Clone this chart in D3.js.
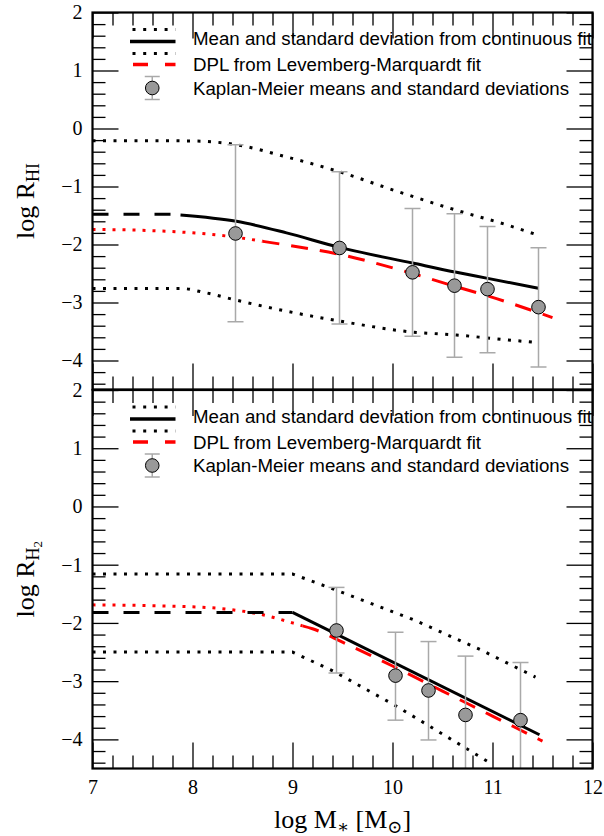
<!DOCTYPE html>
<html><head><meta charset="utf-8">
<script src="https://cdn.jsdelivr.net/npm/d3@7"></script>
<style>body{margin:0;background:#fff}</style>
</head><body><svg id="c" width="604" height="836"></svg>
<script>
// ================= DATA =================
// x axis
const xDomain = [7, 12];
const xTickValues = [7, 8, 9, 10, 11, 12];
const yDomain = [-4.5, 2];
const yTickValues = [-4, -3, -2, -1, 0, 1, 2];

// ---- Top panel: log R_HI ----
const hiUpperX = [7.0, 7.5, 8.0, 8.2, 8.44, 8.94, 9.44, 10.04, 10.64, 11.14, 11.44];
const hiUpperY = [-0.21, -0.21, -0.215, -0.23, -0.28, -0.49, -0.73, -1.08, -1.41, -1.66, -1.83];
const hiLowerX = [7.0, 7.5, 7.9, 8.1, 8.44, 8.94, 9.47, 10.2, 10.64, 11.0, 11.44];
const hiLowerY = [-2.76, -2.76, -2.76, -2.82, -2.96, -3.15, -3.32, -3.51, -3.56, -3.62, -3.69];
const hiMeanExtX = [7.0, 7.88];
const hiMeanExtY = [-1.48, -1.48];
const hiMeanX = [7.88, 8.44, 8.94, 9.47, 10.2, 10.64, 10.94, 11.46];
const hiMeanY = [-1.49, -1.60, -1.80, -2.05, -2.32, -2.48, -2.58, -2.755];
const hiDplExtX = [7.0, 7.5, 7.88, 8.37, 8.7];
const hiDplExtY = [-1.74, -1.755, -1.785, -1.86, -1.945];
const hiDplX = [8.7, 8.87, 9.47, 10.2, 10.64, 10.94, 11.6];
const hiDplY = [-1.945, -1.99, -2.17, -2.5, -2.73, -2.88, -3.26];
const hiPtX = [8.43, 9.47, 10.2, 10.62, 10.95, 11.46];
const hiPtY = [-1.81, -2.06, -2.48, -2.71, -2.77, -3.08];
const hiErrHi = [-0.28, -0.745, -1.38, -1.47, -1.69, -2.055];
const hiErrLo = [-3.33, -3.37, -3.58, -3.945, -3.865, -4.11];

// ---- Bottom panel: log R_H2 ----
const h2UpperX = [7.0, 9.0, 9.41, 10.21, 10.88, 11.43];
const h2UpperY = [-1.16, -1.16, -1.42, -1.945, -2.46, -2.93];
const h2LowerX = [7.0, 9.0, 9.41, 10.04, 10.54, 11.0];
const h2LowerY = [-2.5, -2.5, -2.83, -3.43, -3.95, -4.43];
const h2MeanExtX = [7.0, 9.0];
const h2MeanExtY = [-1.82, -1.82];
const h2MeanX = [9.0, 11.47];
const h2MeanY = [-1.82, -3.92];
const h2DplExtX = [7.0, 7.88, 8.38, 8.7, 9.0, 9.1];
const h2DplExtY = [-1.69, -1.717, -1.77, -1.86, -2.0, -2.05];
const h2DplX = [9.1, 9.2, 9.5, 10.0, 10.5, 11.0, 11.5];
const h2DplY = [-2.05, -2.1, -2.33, -2.74, -3.17, -3.6, -4.03];
const h2PtX = [9.44, 10.03, 10.36, 10.73, 11.28];
const h2PtY = [-2.13, -2.905, -3.16, -3.58, -3.67];
const h2ErrHi = [-1.39, -2.16, -2.32, -2.57, -2.68];
const h2ErrLo = [-2.86, -3.67, -4.01, -4.6, -4.6];

const legendLabels = [
  "Mean and standard deviation from continuous fit",
  "DPL from Levemberg-Marquardt fit",
  "Kaplan-Meier means and standard deviations"
];

// ================= DRAW =================
const svg = d3.select("#c");
const X0 = 92.5, X1 = 592.5;
const x = d3.scaleLinear().domain(xDomain).range([X0, X1]);
const zip = (a, b) => a.map((v, i) => [v, b[i]]);
const RED = "#ff0000", GREY = "#a9a9a9", MFILL = "#999999";
const serif = "'Liberation Serif', 'DejaVu Serif', serif";
const sans = "'Liberation Sans', Arial, sans-serif";
const intFmt = d3.format("d");

function panel(cfg) {
  const y = d3.scaleLinear().domain(yDomain).range([cfg.bottom, cfg.top]);
  const g = svg.append("g");
  const clipId = "clip" + cfg.id;
  svg.append("clipPath").attr("id", clipId).append("rect")
    .attr("x", X0).attr("y", cfg.top).attr("width", X1 - X0).attr("height", cfg.bottom - cfg.top);
  const plot = g.append("g").attr("clip-path", `url(#${clipId})`);

  const mkLine = (curve) => d3.line().x(d => x(d[0])).y(d => y(d[1])).curve(curve);
  const C = cfg.curve;

  function path(xs, ys, stroke, w, dash, curve) {
    plot.append("path").attr("d", mkLine(curve || C)(zip(xs, ys)))
      .attr("fill", "none").attr("stroke", stroke).attr("stroke-width", w)
      .attr("stroke-dasharray", dash || null);
  }
  // dotted std-dev
  path(cfg.upX, cfg.upY, "#000", 3, "3,7.5");
  path(cfg.loX, cfg.loY, "#000", 3, "3,7.5");
  // red DPL
  path(cfg.dplExtX, cfg.dplExtY, RED, 3, "3,7", d3.curveMonotoneX);
  path(cfg.dplX, cfg.dplY, RED, 3, "17,12", d3.curveMonotoneX);
  // mean
  path(cfg.meanExtX, cfg.meanExtY, "#000", 3, "16,15");
  path(cfg.meanX, cfg.meanY, "#000", 3, null);

  // error bars + points
  const pts = cfg.ptX.map((v, i) => ({x: v, y: cfg.ptY[i], hi: cfg.errHi[i], lo: cfg.errLo[i]}));
  const eb = plot.append("g").attr("stroke", GREY).attr("stroke-width", 1.5);
  pts.forEach(p => {
    eb.append("line").attr("x1", x(p.x)).attr("x2", x(p.x)).attr("y1", y(p.hi)).attr("y2", y(p.lo));
    eb.append("line").attr("x1", x(p.x) - 8).attr("x2", x(p.x) + 8).attr("y1", y(p.hi)).attr("y2", y(p.hi));
    eb.append("line").attr("x1", x(p.x) - 8).attr("x2", x(p.x) + 8).attr("y1", y(p.lo)).attr("y2", y(p.lo));
  });
  plot.append("g").selectAll("circle").data(pts).join("circle")
    .attr("cx", d => x(d.x)).attr("cy", d => y(d.y)).attr("r", 6.8)
    .attr("fill", MFILL).attr("stroke", "#000").attr("stroke-width", 1);

  // axes ticks (inward on all four sides)
  const minorY = d3.range(-4.4, 2.0, 0.2).filter(v => Math.abs(v - Math.round(v)) > 1e-6);
  const minorX = d3.range(7.2, 12, 0.2).filter(v => Math.abs(v - Math.round(v)) > 1e-6);
  const ax = [
    [d3.axisLeft(y).tickValues(yTickValues).tickSize(-26).tickPadding(10).tickFormat(intFmt), `translate(${X0},0)`],
    [d3.axisLeft(y).tickValues(minorY).tickSize(-13).tickFormat(""), `translate(${X0},0)`],
    [d3.axisRight(y).tickValues(yTickValues).tickSize(-26).tickFormat(""), `translate(${X1},0)`],
    [d3.axisRight(y).tickValues(minorY).tickSize(-13).tickFormat(""), `translate(${X1},0)`],
    [d3.axisTop(x).tickValues(xTickValues).tickSize(-26).tickFormat(""), `translate(0,${cfg.top})`],
    [d3.axisTop(x).tickValues(minorX).tickSize(-13).tickFormat(""), `translate(0,${cfg.top})`],
    [d3.axisBottom(x).tickValues(xTickValues).tickSize(-26).tickPadding(11).tickFormat(cfg.xLabels ? intFmt : ""), `translate(0,${cfg.bottom})`],
    [d3.axisBottom(x).tickValues(minorX).tickSize(-13).tickFormat(""), `translate(0,${cfg.bottom})`]
  ];
  ax.forEach(([a, t]) => {
    const ag = g.append("g").attr("transform", t).call(a);
    ag.select(".domain").remove();
    ag.selectAll(".tick line").attr("stroke", "#000").attr("stroke-width", 1.3);
    ag.selectAll("text").attr("font-family", serif).attr("font-size", 20).attr("fill", "#000");
  });

  // frame
  g.append("rect").attr("x", X0).attr("y", cfg.top).attr("width", X1 - X0).attr("height", cfg.bottom - cfg.top)
    .attr("fill", "none").attr("stroke", "#000").attr("stroke-width", 2.2);

  // legend
  const T = cfg.top, lx0 = 130, lx1 = 175.5, tx = 193;
  const lg = g.append("g");
  const seg = (yy, stroke, w, dash, off) => lg.append("line").attr("x1", lx0).attr("x2", lx1)
    .attr("y1", yy).attr("y2", yy).attr("stroke", stroke).attr("stroke-width", w)
    .attr("stroke-dasharray", dash).attr("stroke-dashoffset", off || 0);
  seg(T + 17, "#000", 3, "3,7.7", -2.5);
  seg(T + 29, "#000", 3.3, null);
  seg(T + 41, "#000", 3, "3,7.7", -2.5);
  seg(T + 52, RED, 3.3, "15,17", -3);
  const mx = (lx0 + lx1) / 2 - 0.5, my = T + 75.5;
  lg.append("line").attr("x1", mx).attr("x2", mx).attr("y1", my - 11.5).attr("y2", my + 11.5).attr("stroke", GREY).attr("stroke-width", 1.5);
  lg.append("line").attr("x1", mx - 7.5).attr("x2", mx + 7.5).attr("y1", my - 11.5).attr("y2", my - 11.5).attr("stroke", GREY).attr("stroke-width", 1.5);
  lg.append("line").attr("x1", mx - 7.5).attr("x2", mx + 7.5).attr("y1", my + 11.5).attr("y2", my + 11.5).attr("stroke", GREY).attr("stroke-width", 1.5);
  lg.append("circle").attr("cx", mx).attr("cy", my).attr("r", 6.8).attr("fill", MFILL).attr("stroke", "#000");
  [32.6, 58.6, 82].forEach((dy, i) => {
    lg.append("text").attr("x", tx).attr("y", T + dy).text(legendLabels[i])
      .attr("font-family", sans).attr("font-size", 18.7).attr("fill", "#000");
  });

  // y title
  const yt = svg.append("text").attr("transform", `translate(34,${(cfg.top + cfg.bottom) / 2}) rotate(-90)`)
    .attr("text-anchor", "middle").attr("font-family", serif).attr("font-size", 26).attr("fill", "#000");
  yt.append("tspan").text("log R");
  if (cfg.id === "top") {
    yt.append("tspan").attr("dy", 5).attr("font-size", 18).text("HI");
  } else {
    yt.append("tspan").attr("dy", 5).attr("font-size", 18).text("H");
    yt.append("tspan").attr("dy", 3).attr("font-size", 13).text("2");
  }
}

panel({id: "top", top: 12.5, bottom: 389.5, curve: d3.curveMonotoneX,
  upX: hiUpperX, upY: hiUpperY, loX: hiLowerX, loY: hiLowerY,
  meanExtX: hiMeanExtX, meanExtY: hiMeanExtY, meanX: hiMeanX, meanY: hiMeanY,
  dplExtX: hiDplExtX, dplExtY: hiDplExtY, dplX: hiDplX, dplY: hiDplY,
  ptX: hiPtX, ptY: hiPtY, errHi: hiErrHi, errLo: hiErrLo, xLabels: false});

panel({id: "bot", top: 390, bottom: 768.5, curve: d3.curveLinear,
  upX: h2UpperX, upY: h2UpperY, loX: h2LowerX, loY: h2LowerY,
  meanExtX: h2MeanExtX, meanExtY: h2MeanExtY, meanX: h2MeanX, meanY: h2MeanY,
  dplExtX: h2DplExtX, dplExtY: h2DplExtY, dplX: h2DplX, dplY: h2DplY,
  ptX: h2PtX, ptY: h2PtY, errHi: h2ErrHi, errLo: h2ErrLo, xLabels: true});

// x title
const xt = svg.append("text").attr("x", (X0 + X1) / 2).attr("y", 828).attr("text-anchor", "middle")
  .attr("font-family", serif).attr("font-size", 26).attr("fill", "#000");
xt.append("tspan").text("log M");
xt.append("tspan").attr("dy", 5).attr("font-size", 18).text("∗");
xt.append("tspan").attr("dy", -5).text(" [M");
xt.append("tspan").attr("dy", 5).attr("font-size", 18).text("⊙");
xt.append("tspan").attr("dy", -5).text("]");
</script></body></html>
